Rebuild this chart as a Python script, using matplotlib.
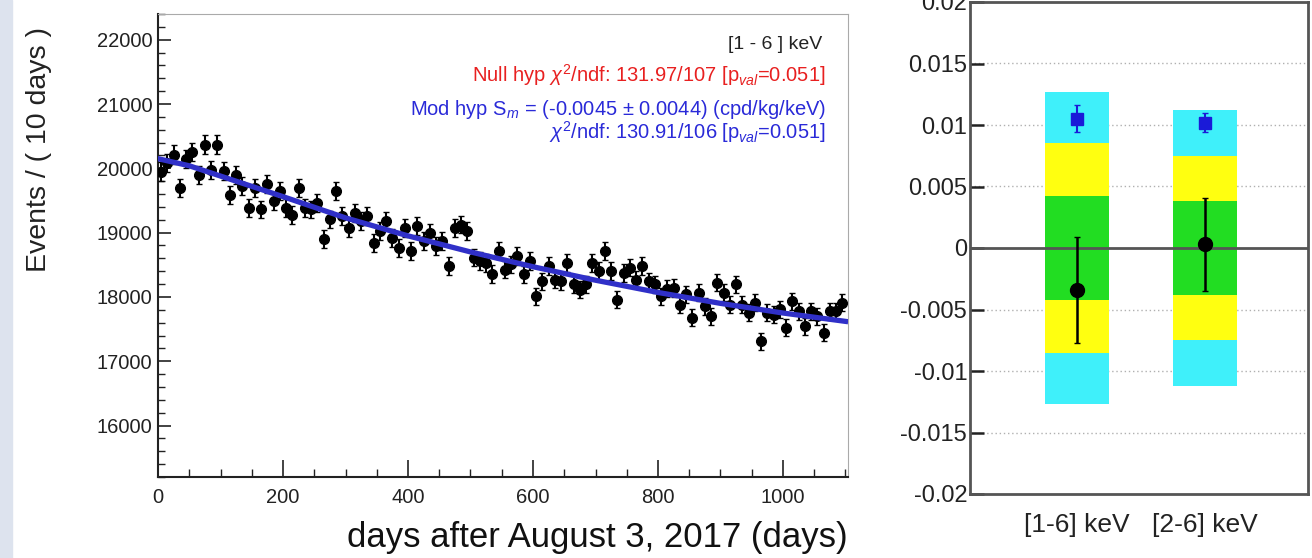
import numpy as np
import matplotlib.pyplot as plt
from matplotlib.ticker import MultipleLocator, FixedLocator, FuncFormatter
from matplotlib.patches import Rectangle

plt.rcParams['font.family'] = ['Liberation Sans', 'DejaVu Sans']
plt.rcParams['mathtext.fontset'] = 'custom'
plt.rcParams['mathtext.rm'] = 'Liberation Sans'
plt.rcParams['mathtext.it'] = 'Liberation Sans:italic'
plt.rcParams['axes.unicode_minus'] = False

# ---- time series: events per 10-day bin ----
bin_days = np.arange(5, 1100, 10)
events = [
    19950, 20080, 20215, 19700, 20150, 20250, 19900, 20370, 19980, 20370,
    19955, 19590, 19900, 19720, 19385, 19700, 19360, 19750, 19490, 19645,
    19385, 19280, 19700, 19385, 19360, 19465, 18900, 19205, 19650, 19255,
    19075, 19310, 19180, 19255, 18840, 19020, 19180, 18920, 18765, 19075,
    18710, 19100, 18865, 19000, 18790, 18865, 18480, 19075, 19125, 19020,
    18610, 18555, 18530, 18360, 18720, 18425, 18505, 18635, 18350, 18555,
    18010, 18245, 18480, 18270, 18245, 18530, 18195, 18115, 18195, 18530,
    18400, 18710, 18400, 17960, 18375, 18455, 18270, 18480, 18245, 18195,
    18010, 18130, 18140, 17880, 18040, 17675, 18065, 17855, 17700, 18220,
    18065, 17880, 18195, 17880, 17755, 17910, 17310, 17755, 17725, 17805,
    17520, 17935, 17780, 17545, 17780, 17700, 17440, 17780, 17780, 17910,
]
events = np.array(events)
errors = np.sqrt(events)

# fitted model (modulation hypothesis)
fit_days = [0, 50, 100, 150, 200, 300, 400, 500, 600, 700, 800, 900, 1000, 1100]
fit_events = [20150, 20040, 19880, 19720, 19560, 19230, 18950, 18700, 18470,
              18260, 18070, 17900, 17750, 17620]

# ---- modulation amplitudes ----
ranges = ['[1-6] keV', '[2-6] keV']
positions = [1, 2]
anais_sm = [-0.0034, 0.0003]
anais_err = [0.0043, 0.0038]
dama_sm = [0.0105, 0.0102]
dama_err = [0.0011, 0.0008]
sigma1 = [0.0042, 0.0038]
sigma2 = [0.0085, 0.0075]
sigma3 = [0.0127, 0.0112]

W, H = 1312, 558
fig = plt.figure(figsize=(W / 100, H / 100), dpi=100)
fig.patches.append(Rectangle((0, 0), 12 / W, 1, transform=fig.transFigure,
                             color='#dde3ee', zorder=-1))

# ---------- left: events vs time ----------
ax = fig.add_axes([158 / W, 1 - 477 / H, 690 / W, 463 / H])
ax.errorbar(bin_days, events, yerr=errors, fmt='o', color='black',
            ms=7, lw=1.5, capsize=2, zorder=3)
ax.plot(fit_days, fit_events, color='#3030c8', lw=3.8, zorder=4)
ax.set_xlim(0, 1104)
ax.set_ylim(15200, 22400)
ax.xaxis.set_major_locator(MultipleLocator(200))
ax.xaxis.set_minor_locator(MultipleLocator(50))
ax.yaxis.set_major_locator(MultipleLocator(1000))
ax.yaxis.set_minor_locator(MultipleLocator(200))
ax.tick_params(which='both', direction='in', top=False, right=False,
               labelsize=14.5, colors='#222222')
ax.tick_params(axis='y', which='major', length=9, width=1.2, pad=4)
ax.tick_params(axis='y', which='minor', length=5, width=1.0)
ax.tick_params(axis='x', which='major', length=12, width=1.2, pad=8)
ax.tick_params(axis='x', which='minor', length=6, width=1.0)
for side in ['left', 'bottom']:
    ax.spines[side].set_linewidth(1.5)
    ax.spines[side].set_color('#222222')
for side in ['top', 'right']:
    ax.spines[side].set_linewidth(0.8)
    ax.spines[side].set_color('#aaaaaa')

fig.text(39 / W, 1 - 150 / H, 'Events / ( 10 days )', rotation=90,
         ha='center', va='center', fontsize=20.5, color='#222222')
fig.text(848 / W, 1 - 538 / H, 'days after August 3, 2017 (days)',
         ha='right', va='center', fontsize=25, color='#111111')

ax.text(0.962, 0.935, '[1 - 6 ] keV', transform=ax.transAxes,
        ha='right', va='center', fontsize=14, color='#222222')
ax.text(0.968, 0.868, r'Null hyp $\chi^2$/ndf: 131.97/107 [p$_{val}$=0.051]',
        transform=ax.transAxes, ha='right', va='center', fontsize=14.5,
        color='#e82020')
ax.text(0.968, 0.794, r'Mod hyp S$_m$ = (-0.0045 $\pm$ 0.0044) (cpd/kg/keV)',
        transform=ax.transAxes, ha='right', va='center', fontsize=14.5,
        color='#2a2ad8')
ax.text(0.968, 0.745, r'$\chi^2$/ndf: 130.91/106 [p$_{val}$=0.051]',
        transform=ax.transAxes, ha='right', va='center', fontsize=14.5,
        color='#2a2ad8')

# ---------- right: modulation amplitude comparison ----------
bx = fig.add_axes([970 / W, 1 - 494 / H, 338 / W, 492 / H])
bx.set_xlim(0.164, 2.805)
bx.set_ylim(-0.02, 0.02)
for v in np.arange(-0.015, 0.0151, 0.005):
    if abs(v) > 1e-9:
        bx.axhline(v, color='#b0b0b0', lw=1, ls=(0, (1, 2)), zorder=1)

s1 = np.array(sigma1)
s2 = np.array(sigma2)
s3 = np.array(sigma3)
bx.bar(positions, 2 * s3, bottom=-s3, width=0.5, color='#3ff0fa', zorder=2)
bx.bar(positions, 2 * s2, bottom=-s2, width=0.5, color='#ffff10', zorder=2)
bx.bar(positions, 2 * s1, bottom=-s1, width=0.5, color='#22dd22', zorder=2)
bx.axhline(0, color='#555555', lw=2, zorder=3)

bx.errorbar(positions, anais_sm, yerr=anais_err, fmt='o', color='black',
            ms=10, lw=1.8, capsize=2, zorder=5)
bx.errorbar(positions, dama_sm, yerr=dama_err, fmt='s', color='#1a1ad8',
            ms=9, lw=1.5, capsize=2, zorder=5)

bx.yaxis.set_major_locator(MultipleLocator(0.005))
bx.yaxis.set_major_formatter(FuncFormatter(lambda v, p: f'{round(v, 4):g}'))
bx.xaxis.set_major_locator(FixedLocator(positions))
bx.set_xticklabels(ranges)
bx.tick_params(axis='y', direction='in', length=10, width=1.8, labelsize=17,
               colors='#222222', pad=2)
bx.tick_params(axis='x', length=0, labelsize=19, pad=14, colors='#222222')
for side in bx.spines.values():
    side.set_linewidth(2)
    side.set_color('#555555')

fig.savefig('out.png', dpi=100)
